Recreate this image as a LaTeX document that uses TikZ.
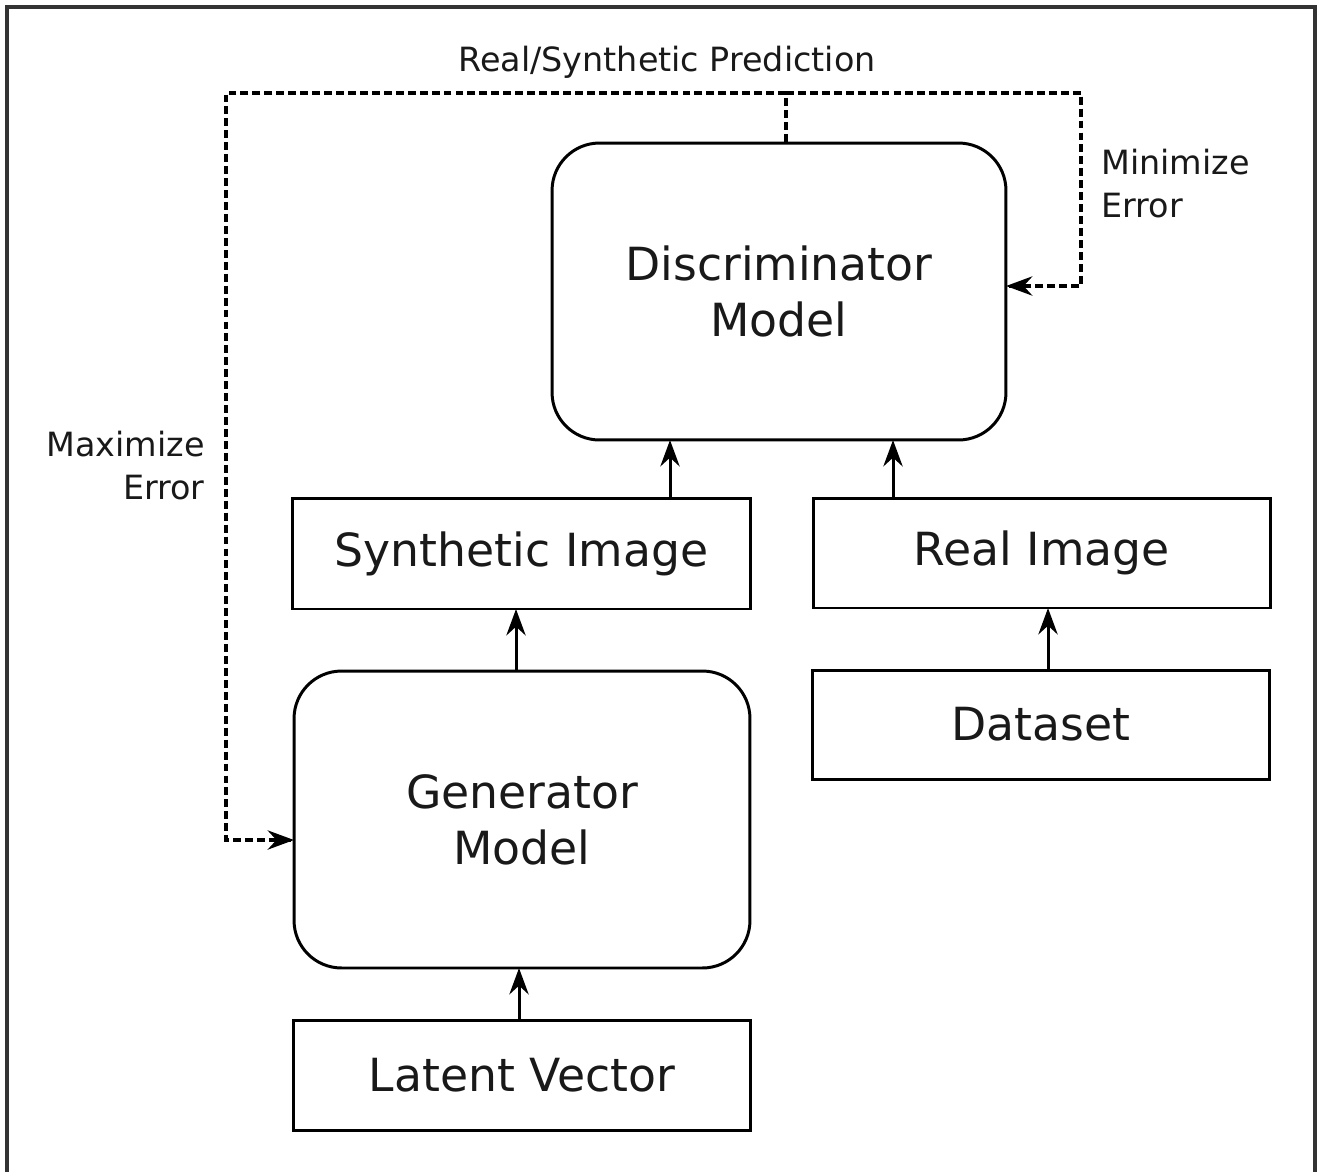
\documentclass[tikz,border=0pt]{standalone}
\usepackage{fontspec}
\setmainfont{DejaVu Sans}
\usetikzlibrary{arrows.meta}
\begin{document}
\begin{tikzpicture}[x=0.02cm,y=-0.02cm,
  box/.style={draw=black, line width=1.7pt, inner sep=0pt, align=center,
    font=\fontsize{26}{32}\selectfont, text=black!90},
  rbox/.style={box, rounded corners=0.95cm},
  lbl/.style={inner sep=0pt, font=\fontsize{19}{24.5}\selectfont, text=black!90},
  arr/.style={line width=1.7pt, shorten >=-0.8pt, -{Stealth[length=15pt,width=11pt,inset=5pt]}},
  dsh/.style={line width=2pt, dash pattern=on 4.5pt off 2.3pt}
]
\useasboundingbox (0,0) rectangle (1324,1171);
\draw[line width=1.8pt, black!80] (7,1180) -- (7,7) -- (1315,7) -- (1315,1180);

\node[rbox, minimum width=9.08cm, minimum height=5.94cm] (disc) at (779,291.5) {Discriminator\\Model};
\node[box, minimum width=9.18cm, minimum height=2.22cm] (syn) at (521.5,553.5) {Synthetic Image};
\node[box, minimum width=9.16cm, minimum height=2.2cm] (real) at (1042,553) {Real Image};
\node[rbox, minimum width=9.12cm, minimum height=5.94cm] (gen) at (522,819.5) {Generator\\Model};
\node[box, minimum width=9.16cm, minimum height=2.18cm] (data) at (1041,724.5) {Dataset};
\node[box, minimum width=9.16cm, minimum height=2.2cm] (lat) at (522,1075) {Latent Vector};

\coordinate (xa) at (519,0);
\coordinate (xb) at (516,0);
\coordinate (xc) at (670,0);
\coordinate (xd) at (893,0);
\coordinate (xe) at (1048,0);
\draw[arr] (lat.north -| xa) -- (gen.south -| xa);
\draw[arr] (gen.north -| xb) -- (syn.south -| xb);
\draw[arr] (syn.north -| xc) -- (disc.south -| xc);
\draw[arr] (real.north -| xd) -- (disc.south -| xd);
\draw[arr] (data.north -| xe) -- (real.south -| xe);

\coordinate (top) at (786,93);
\coordinate (gL) at (226,840);
\coordinate (dR) at (1081,286);
\draw[dsh] (disc.north -| top) -- (top);
\draw[dsh] (top) -| (gL) -- ([xshift=-6pt]gen.west |- gL);
\draw[dsh] (top) -| (dR) -- ([xshift=6pt]disc.east |- dR);
\draw[arr] ([xshift=-1pt]gen.west |- gL) -- (gen.west |- gL);
\draw[arr] ([xshift=1pt]disc.east |- dR) -- (disc.east |- dR);

\node[lbl] (pred) at (667,62) {Real/Synthetic Prediction};
\node[lbl, anchor=west, align=left] (minl) at (1101,184) {Minimize\\Error};
\node[lbl, anchor=east, align=right] (maxl) at (205,466) {Maximize\\Error};
\end{tikzpicture}
\end{document}
